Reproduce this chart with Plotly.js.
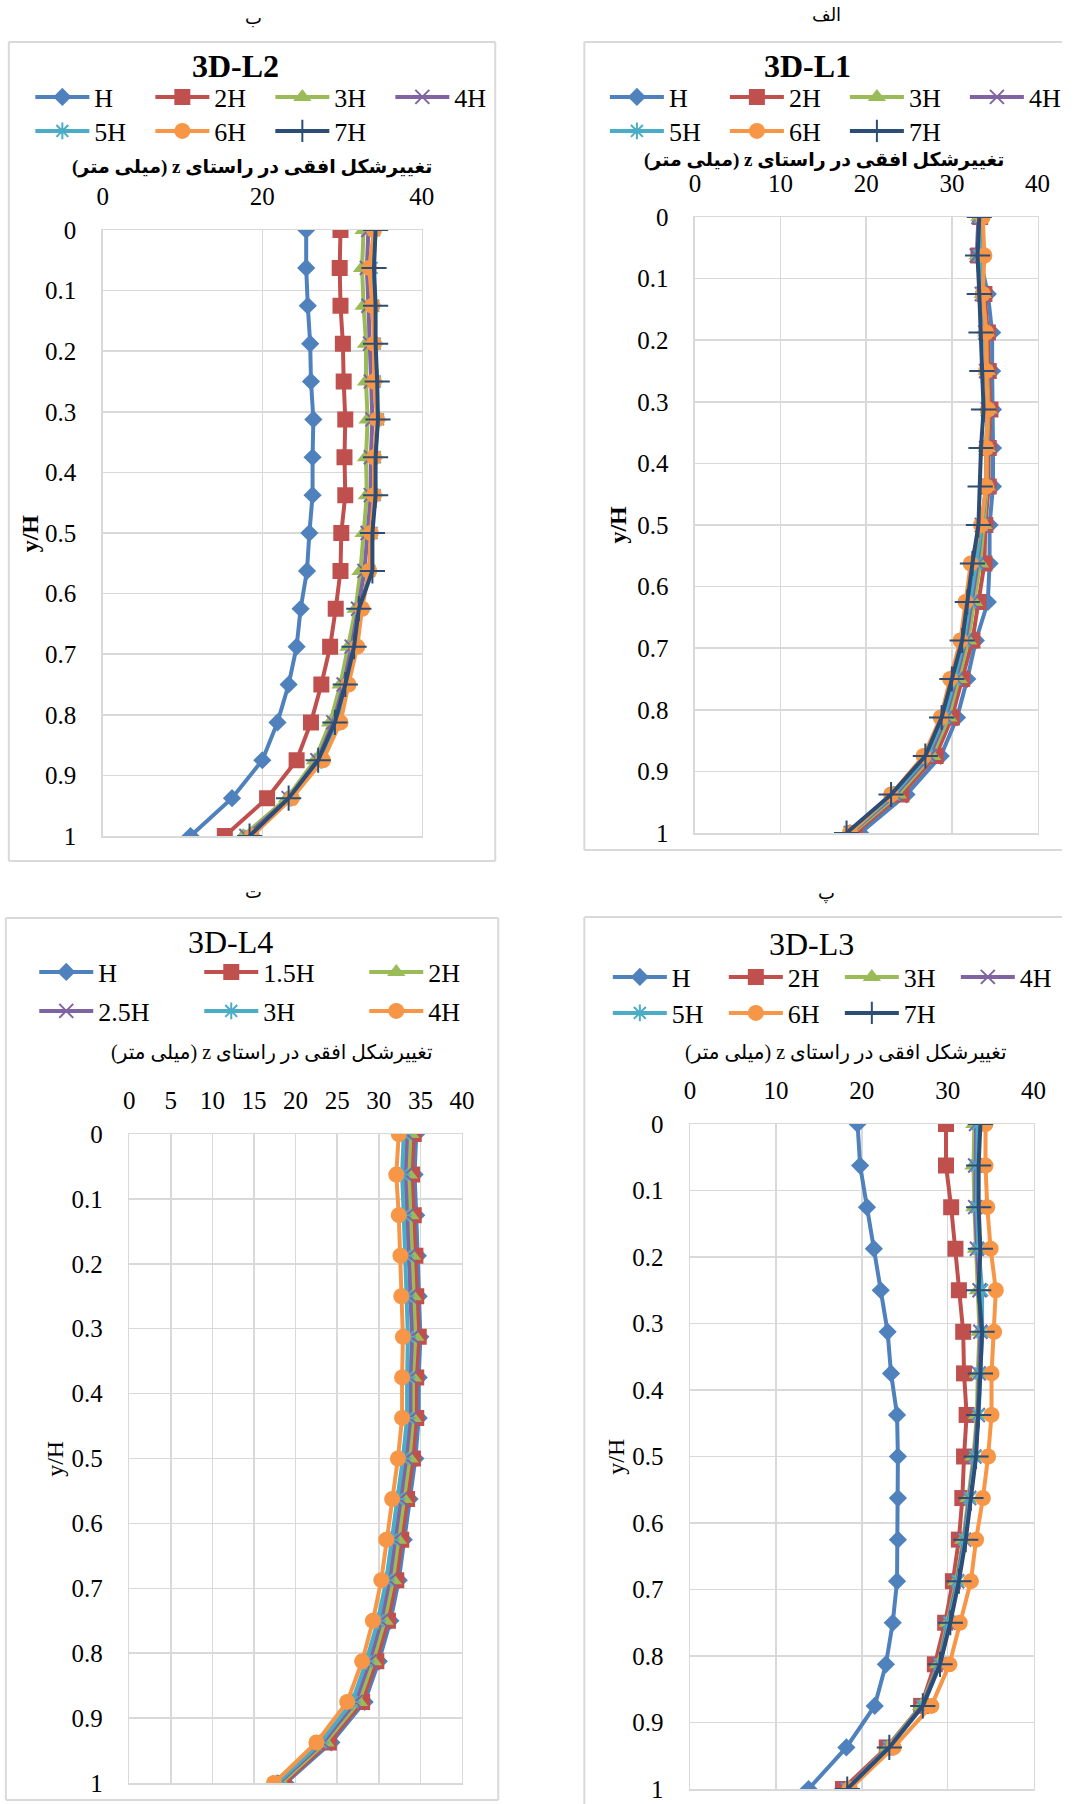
<!DOCTYPE html>
<html>
<head>
<meta charset="utf-8">
<script src="https://cdn.plot.ly/plotly-3.0.1.min.js"></script>
<style>
html,body{margin:0;padding:0;background:#ffffff;overflow:hidden;}
#chart{width:1085px;height:1804px;overflow:hidden;}
</style>
</head>
<body>
<div id="chart"></div>
<script>
// ---------------- DATA ----------------
const yH = [0, 0.0625, 0.125, 0.1875, 0.25, 0.3125, 0.375, 0.4375, 0.5, 0.5625, 0.625, 0.6875, 0.75, 0.8125, 0.875, 0.9375, 1];
const yTickVals = [0, 0.1, 0.2, 0.3, 0.4, 0.5, 0.6, 0.7, 0.8, 0.9, 1];
const yTickText = ['0', '0.1', '0.2', '0.3', '0.4', '0.5', '0.6', '0.7', '0.8', '0.9', '1'];

const names7 = ['H', '2H', '3H', '4H', '5H', '6H', '7H'];
const namesL4 = ['H', '1.5H', '2H', '2.5H', '3H', '4H'];

// 3D-L1 (الف)
const L1_H  = [33.4, 33.2, 34.2, 34.7, 34.7, 34.8, 34.8, 34.8, 34.4, 34.4, 34.2, 32.8, 31.8, 30.6, 28.7, 24.7, 19.3];
const L1_2H = [33.3, 33.1, 33.8, 34.2, 34.3, 34.5, 34.3, 34.3, 33.9, 33.8, 33.1, 32.4, 31.2, 30.0, 28.1, 24.1, 18.7];
const L1_3H = [33.2, 33.0, 33.6, 34.0, 34.1, 34.3, 34.1, 34.1, 33.7, 33.3, 32.6, 31.9, 30.8, 29.6, 27.7, 23.7, 18.4];
const L1_4H = [33.1, 32.9, 33.5, 33.9, 34.0, 34.2, 34.0, 34.0, 33.5, 33.0, 32.3, 31.6, 30.5, 29.3, 27.4, 23.4, 18.2];
const L1_5H = [33.3, 33.2, 33.5, 33.9, 34.0, 34.2, 34.0, 34.0, 33.5, 32.8, 32.1, 31.4, 30.3, 29.1, 27.1, 23.2, 18.1];
const L1_6H = [33.6, 33.8, 33.6, 34.0, 34.0, 34.2, 34.0, 34.0, 33.4, 32.2, 31.6, 31.0, 29.8, 28.7, 26.7, 22.9, 18.1];
const L1_7H = [33.2, 33.0, 33.2, 33.4, 33.5, 33.7, 33.4, 33.3, 33.1, 32.4, 31.8, 31.2, 30.0, 28.8, 26.9, 22.9, 17.7];

// 3D-L2 (ب)
const L2_H  = [25.5, 25.5, 25.7, 26.0, 26.1, 26.4, 26.3, 26.3, 25.9, 25.6, 24.8, 24.3, 23.3, 21.9, 20.0, 16.2, 11.0];
const L2_2H = [29.8, 29.7, 29.8, 30.1, 30.2, 30.4, 30.3, 30.4, 29.9, 29.8, 29.2, 28.5, 27.4, 26.1, 24.3, 20.6, 15.3];
const L2_3H = [32.7, 32.5, 32.7, 33.0, 33.0, 33.2, 33.0, 33.1, 32.7, 32.3, 31.7, 30.8, 29.8, 28.5, 26.6, 23.1, 17.6];
const L2_4H = [33.3, 33.1, 33.3, 33.5, 33.6, 33.8, 33.6, 33.6, 33.2, 32.8, 32.0, 31.2, 30.2, 28.9, 26.9, 23.3, 18.0];
const L2_5H = [34.0, 33.7, 33.9, 34.1, 34.1, 34.5, 34.1, 34.1, 33.7, 33.4, 32.4, 31.7, 30.7, 29.6, 27.4, 23.6, 18.5];
const L2_6H = [34.0, 33.4, 33.8, 34.0, 34.0, 34.4, 34.0, 34.0, 33.6, 33.4, 32.5, 31.9, 30.8, 29.8, 27.6, 23.7, 18.7];
const L2_7H = [34.2, 34.0, 34.2, 34.2, 34.4, 34.5, 34.2, 34.2, 33.8, 33.8, 32.1, 31.5, 30.4, 29.1, 27.0, 23.3, 18.4];

// 3D-L3 (پ)
const L3_H  = [19.5, 19.8, 20.6, 21.4, 22.2, 23.0, 23.4, 24.1, 24.2, 24.2, 24.2, 24.1, 23.6, 22.8, 21.5, 18.2, 13.8];
const L3_2H = [29.8, 29.8, 30.4, 30.9, 31.3, 31.8, 31.9, 32.2, 31.9, 31.7, 31.3, 30.6, 29.7, 28.5, 26.9, 22.9, 17.8];
const L3_3H = [33.1, 33.0, 33.1, 33.3, 33.5, 33.7, 33.5, 33.4, 33.0, 32.4, 31.8, 31.0, 30.0, 28.9, 26.9, 23.0, 18.2];
const L3_4H = [33.3, 33.2, 33.2, 33.4, 33.7, 33.8, 33.6, 33.5, 33.1, 32.5, 31.9, 31.1, 30.1, 29.0, 27.0, 23.1, 18.2];
const L3_5H = [33.5, 33.4, 33.4, 33.6, 34.0, 34.0, 33.8, 33.6, 33.2, 32.6, 32.0, 31.2, 30.2, 29.1, 27.1, 23.2, 18.3];
const L3_6H = [34.4, 34.4, 34.6, 35.0, 35.6, 35.4, 35.1, 35.1, 34.7, 34.1, 33.3, 32.7, 31.4, 30.2, 28.1, 23.7, 18.6];
const L3_7H = [33.8, 33.6, 33.6, 33.8, 33.6, 34.0, 33.8, 33.6, 33.3, 32.7, 32.1, 31.3, 30.3, 29.1, 27.1, 23.2, 18.3];

// 3D-L4 (ت)
const L4_H   = [34.5, 34.3, 34.5, 34.7, 34.8, 35.0, 34.8, 34.8, 34.4, 33.7, 33.0, 32.4, 31.4, 30.0, 28.3, 24.3, 18.8];
const L4_15H = [34.2, 34.0, 34.2, 34.4, 34.5, 34.8, 34.5, 34.5, 34.1, 33.4, 32.7, 32.1, 31.1, 29.7, 28.0, 24.0, 18.6];
const L4_2H  = [33.8, 33.6, 33.8, 34.0, 34.1, 34.4, 34.1, 34.1, 33.7, 33.0, 32.3, 31.7, 30.7, 29.3, 27.6, 23.6, 18.3];
const L4_25H = [33.4, 33.2, 33.4, 33.6, 33.7, 34.0, 33.8, 33.8, 33.3, 32.6, 31.9, 31.3, 30.3, 28.9, 27.2, 23.3, 18.0];
const L4_3H  = [33.0, 32.8, 33.0, 33.2, 33.3, 33.5, 33.4, 33.4, 32.9, 32.2, 31.5, 30.9, 29.9, 28.5, 26.8, 23.0, 17.8];
const L4_4H  = [32.4, 32.1, 32.4, 32.6, 32.7, 32.9, 32.8, 32.8, 32.3, 31.6, 30.9, 30.3, 29.3, 28.0, 26.2, 22.5, 17.4];

const xTitleText = 'تغییرشکل افقی در راستای z (میلی متر)';

// ---------------- STYLE / LAYOUT ----------------
const W = 1085, HT = 1804;
const fx = p => p / W;
const fy = p => 1 - p / HT;
const SERIF = 'Liberation Serif, serif';
const FA = 'Liberation Serif, DejaVu Sans, sans-serif';
const GRID = '#D9D9D9';

const styles = [
  {color: '#4F81BD', symbol: 'diamond', size: 14},
  {color: '#C0504D', symbol: 'square', size: 16},
  {color: '#9BBB59', symbol: 'triangle-up', size: 16},
  {color: '#8064A2', symbol: 'x-thin-open', size: 14, open: true},
  {color: '#4BACC6', symbol: 'asterisk-open', size: 14, open: true},
  {color: '#F79646', symbol: 'circle', size: 16},
  {color: '#2C4D75', symbol: 'cross-thin-open', size: 18, open: true}
];

const panels = [
  {key: 'L2', names: names7, series: [L2_H, L2_2H, L2_3H, L2_4H, L2_5H, L2_6H, L2_7H],
   ax: '', split: 4, legs: ['legend', 'legend2'],
   plot: [105, 431, 230, 836], dtick: 20, bold: true, openRight: false,
   frame: [9, 506, 42, 861], title: '3D-L2', titlePos: [241, 66],
   leg: {x: 31, rows: [97, 131], ew: 51}, xt: [257, 167], yt: [31, 533],
   lab: 'ب', labPos: [259, 18]},
  {key: 'L1', names: names7, series: [L1_H, L1_2H, L1_3H, L1_4H, L1_5H, L1_6H, L1_7H],
   ax: '2', split: 4, legs: ['legend3', 'legend4'],
   plot: [710, 1060, 217, 833], dtick: 10, bold: true, openRight: true,
   frame: [597, 1085, 42, 850], title: '3D-L1', titlePos: [825, 66],
   leg: {x: 618, rows: [97, 131], ew: 51}, xt: [842, 160], yt: [631, 525],
   lab: 'الف', labPos: [844, 15]},
  {key: 'L4', names: namesL4, series: [L4_H, L4_15H, L4_2H, L4_25H, L4_3H, L4_4H],
   ax: '3', split: 3, legs: ['legend5', 'legend6'],
   plot: [132, 472, 1134, 1783], dtick: 5, bold: false, openRight: false,
   frame: [6, 509, 918, 1800], title: '3D-L4', titlePos: [236, 942],
   leg: {x: 35, rows: [972, 1011], ew: 96}, xt: [278, 1052], yt: [56, 1459],
   lab: 'ت', labPos: [259, 892]},
  {key: 'L3', names: names7, series: [L3_H, L3_2H, L3_3H, L3_4H, L3_5H, L3_6H, L3_7H],
   ax: '4', split: 4, legs: ['legend7', 'legend8'],
   plot: [705, 1056, 1124, 1789], dtick: 10, bold: false, openRight: true,
   frame: [597, 1085, 917, 1830], title: '3D-L3', titlePos: [829, 944],
   leg: {x: 621, rows: [977, 1013], ew: 47}, xt: [864, 1052], yt: [629, 1457],
   lab: 'پ', labPos: [844, 893]}
];

const traces = [];
const layout = {
  width: W, height: HT, autosize: false,
  margin: {l: 0, r: 0, t: 0, b: 0, pad: 0},
  paper_bgcolor: '#ffffff', plot_bgcolor: '#ffffff',
  font: {family: SERIF, color: '#000000', size: 24},
  showlegend: true,
  annotations: [], shapes: []
};

function frameLine(x0, y0, x1, y1) {
  return {type: 'line', xref: 'paper', yref: 'paper', layer: 'below',
          x0: fx(x0), y0: fy(y0), x1: fx(x1), y1: fy(y1),
          line: {color: GRID, width: 2}};
}

panels.forEach(p => {
  p.series.forEach((vals, i) => {
    const s = styles[i];
    traces.push({
      type: 'scatter', mode: 'lines+markers',
      x: vals, y: yH, name: p.names[i],
      xaxis: 'x' + p.ax, yaxis: 'y' + p.ax,
      legend: i < p.split ? p.legs[0] : p.legs[1],
      line: {color: s.color, width: 4},
      marker: {symbol: s.symbol, size: s.size, color: s.color,
               line: {color: s.color, width: s.open ? 2 : 0}},
      hoverinfo: 'skip'
    });
  });

  layout['xaxis' + p.ax] = {
    domain: [fx(p.plot[0]), fx(p.plot[1])], anchor: 'y' + p.ax,
    range: [0, 40], side: 'top', tick0: 0, dtick: p.dtick,
    showgrid: true, gridcolor: GRID, gridwidth: 1.5, zeroline: false,
    showline: true, linecolor: GRID, linewidth: 1.5, mirror: true,
    ticks: '', ticklabelstandoff: 14,
    tickfont: {family: SERIF, size: 25, color: '#000'}, fixedrange: true
  };
  layout['yaxis' + p.ax] = {
    domain: [fy(p.plot[3]), fy(p.plot[2])], anchor: 'x' + p.ax,
    range: [1, 0], tickmode: 'array', tickvals: yTickVals, ticktext: yTickText,
    showgrid: true, gridcolor: GRID, gridwidth: 1.5, zeroline: false,
    showline: true, linecolor: GRID, linewidth: 1.5, mirror: true,
    ticks: '', ticklabelstandoff: 20,
    tickfont: {family: SERIF, size: 25, color: '#000'}, fixedrange: true
  };

  p.legs.forEach((lg, r) => {
    layout[lg] = {
      orientation: 'h', x: fx(p.leg.x), y: fy(p.leg.rows[r]),
      xanchor: 'left', yanchor: 'middle', xref: 'paper', yref: 'paper',
      bgcolor: 'rgba(0,0,0,0)', borderwidth: 0,
      itemwidth: 54, entrywidth: p.leg.ew, entrywidthmode: 'pixels',
      font: {family: SERIF, size: 26, color: '#000'},
      itemclick: false, itemdoubleclick: false, traceorder: 'normal'
    };
  });

  const f = p.frame;
  layout.shapes.push(frameLine(f[0], f[2], f[1], f[2]));
  layout.shapes.push(frameLine(f[0], f[2], f[0], f[3]));
  layout.shapes.push(frameLine(f[0], f[3], f[1], f[3]));
  if (!p.openRight) layout.shapes.push(frameLine(f[1], f[2], f[1], f[3]));

  const wt = p.bold ? 'bold' : 'normal';
  layout.annotations.push(
    {text: p.title, x: fx(p.titlePos[0]), y: fy(p.titlePos[1]), xref: 'paper', yref: 'paper',
     xanchor: 'center', yanchor: 'middle', showarrow: false,
     font: {family: SERIF, size: 32, weight: wt, color: '#000'}},
    {text: '\u202B' + xTitleText + '\u202C', x: fx(p.xt[0]), y: fy(p.xt[1]), xref: 'paper', yref: 'paper',
     xanchor: 'center', yanchor: 'middle', showarrow: false,
     font: {family: FA, size: p.bold ? 19 : 20, weight: wt, color: '#000'}},
    {text: 'y/H', x: fx(p.yt[0]), y: fy(p.yt[1]), xref: 'paper', yref: 'paper',
     xanchor: 'center', yanchor: 'middle', showarrow: false, textangle: -90,
     font: {family: SERIF, size: 24, weight: wt, color: '#000'}},
    {text: p.lab, x: fx(p.labPos[0]), y: fy(p.labPos[1]), xref: 'paper', yref: 'paper',
     xanchor: 'center', yanchor: 'middle', showarrow: false,
     font: {family: FA, size: 18, color: '#000'}}
  );
});

Plotly.newPlot('chart', traces, layout, {staticPlot: true, displayModeBar: false});
</script>
</body>
</html>
